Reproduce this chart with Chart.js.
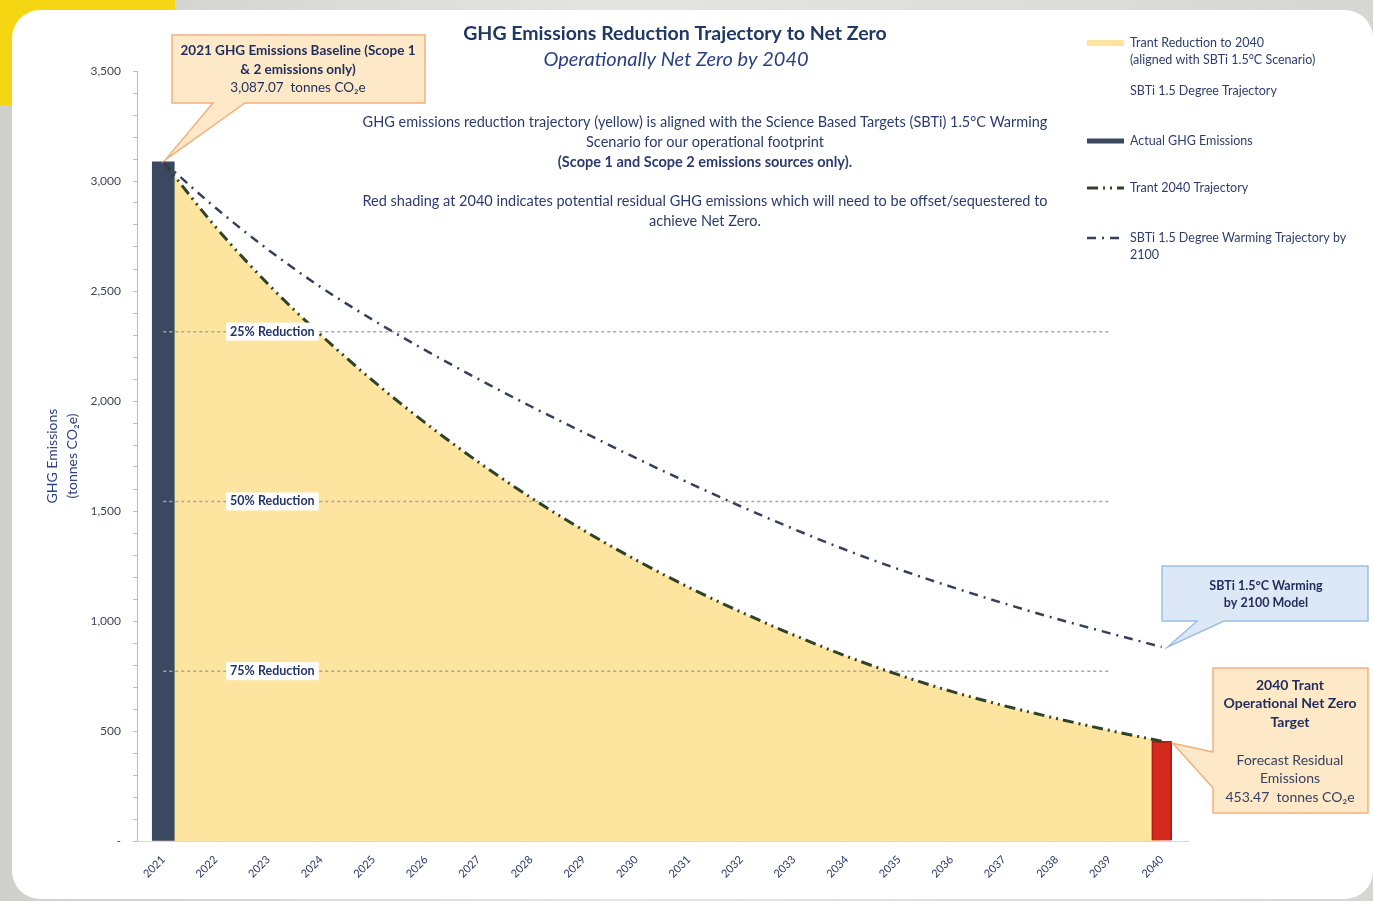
<!DOCTYPE html>
<html>
<head>
<meta charset="utf-8">
<script src="https://cdn.jsdelivr.net/npm/chart.js@4.4.1/dist/chart.umd.min.js"></script>
<style>
  html, body { margin: 0; padding: 0; }
  body {
    width: 1373px; height: 901px; overflow: hidden; position: relative;
    background: linear-gradient(90deg, #cfd0cc 0%, #e4e5e2 45%, #d6d7d3 100%);
  }
  #blob { position: absolute; left: -40px; top: -30px; width: 215px; height: 135px; background: #f5d612; border-radius: 0 0 60% 0; }
  #card { position: absolute; left: 12px; top: 10px; width: 1361px; height: 889px; background: #fff; border-radius: 28px; }
  #wrap { position: absolute; left: 0; top: 0; width: 1373px; height: 901px; }
</style>
</head>
<body>
<div id="blob"></div>
<div id="card"></div>
<div id="wrap"><canvas id="GhgChart"></canvas></div>
<script>
// data
const years = ['2021', '2022', '2023', '2024', '2025', '2026', '2027', '2028', '2029', '2030',
               '2031', '2032', '2033', '2034', '2035', '2036', '2037', '2038', '2039', '2040'];
const actualEmissions = [3087.07, null, null, null, null, null, null, null, null, null,
                         null, null, null, null, null, null, null, null, null, null];
const residualEmissions = [null, null, null, null, null, null, null, null, null, null,
                           null, null, null, null, null, null, null, null, null, 453.47];
const trantTrajectory = [3087.07, 2790, 2530, 2300, 2090, 1898, 1722, 1560, 1412, 1277,
                         1153, 1040, 936, 840, 755, 680, 615, 557, 503, 453.47];
const sbtiTrajectory = [3087.07, 2877, 2687, 2517, 2367, 2229, 2099, 1975, 1857, 1740,
                        1628, 1520, 1418, 1322, 1235, 1155, 1080, 1010, 945, 882];
const reductionLevels = [2315.30, 1543.54, 771.77];
const reductionLabels = ['25% Reduction', '50% Reduction', '75% Reduction'];

const navy = '#22346a';
const FONT = 'Lato, "Open Sans", sans-serif';

function refLine(level) {
    return years.map((yr, i) => (i < years.length - 1 ? level : null));
}

// callout: box with a pointer; base points lie on the box edge
function callout(ctx, box, side, b1, b2, tip, fill, stroke) {
    const [x0, y0, x1, y1] = box;
    ctx.beginPath();
    ctx.moveTo(x0, y0);
    ctx.lineTo(x1, y0);
    ctx.lineTo(x1, y1);
    if (side === 'bottom') {
        ctx.lineTo(b2, y1); ctx.lineTo(tip[0], tip[1]); ctx.lineTo(b1, y1);
        ctx.lineTo(x0, y1);
    } else {
        ctx.lineTo(x0, y1);
        ctx.lineTo(x0, b2); ctx.lineTo(tip[0], tip[1]); ctx.lineTo(x0, b1);
    }
    ctx.closePath();
    ctx.fillStyle = fill;
    ctx.fill();
    ctx.lineWidth = 1.5;
    ctx.strokeStyle = stroke;
    ctx.stroke();
}

function textLines(ctx, lines, cx, y0, lh) {
    ctx.textAlign = 'center';
    ctx.textBaseline = 'middle';
    lines.forEach((l, i) => {
        ctx.font = l[1];
        ctx.fillText(l[0], cx, y0 + i * lh);
    });
}

const overlay = {
    id: 'overlay',
    afterDatasetsDraw(chart) {
        const { ctx, scales: { x, y } } = chart;
        ctx.save();
        ctx.font = 'bold 12.5px ' + FONT;
        ctx.textAlign = 'center';
        ctx.textBaseline = 'middle';
        reductionLevels.forEach((lvl, i) => {
            const px = x.getPixelForValue(2) + 4;
            const py = y.getPixelForValue(lvl);
            const w = ctx.measureText(reductionLabels[i]).width;
            ctx.fillStyle = '#fff';
            ctx.fillRect(px - w / 2 - 4, py - 9, w + 8, 18);
            ctx.fillStyle = navy;
            ctx.fillText(reductionLabels[i], px, py);
        });
        ctx.restore();
    },
    afterDraw(chart) {
        const { ctx, scales: { x, y } } = chart;
        const last = years.length - 1;
        ctx.save();

        // titles
        ctx.fillStyle = '#203864';
        textLines(ctx, [['GHG Emissions Reduction Trajectory to Net Zero', 'bold 19.5px ' + FONT]], 675, 34, 0);
        ctx.fillStyle = '#2b3f86';
        textLines(ctx, [['Operationally Net Zero by 2040', 'italic 20px ' + FONT]], 676, 60, 0);

        ctx.fillStyle = '#2c3b6e';
        textLines(ctx, [
            ['GHG emissions reduction trajectory (yellow) is aligned with the Science Based Targets (SBTi) 1.5\u00b0C Warming', '14.5px ' + FONT],
            ['Scenario for our operational footprint', '14.5px ' + FONT],
            ['(Scope 1 and Scope 2 emissions sources only).', 'bold 14.5px ' + FONT]
        ], 705, 122, 20);
        textLines(ctx, [
            ['Red shading at 2040 indicates potential residual GHG emissions which will need to be offset/sequestered to', '14.5px ' + FONT],
            ['achieve Net Zero.', '14.5px ' + FONT]
        ], 705, 201, 20);

        // callouts
        const tip1 = [x.getPixelForValue(0) + 2, y.getPixelForValue(actualEmissions[0]) - 2];
        callout(ctx, [172, 35, 425, 103], 'bottom', 213, 245, tip1, '#fde9c8', '#f2b07e');
        ctx.fillStyle = '#1f2c5c';
        textLines(ctx, [
            ['2021 GHG Emissions Baseline (Scope 1', 'bold 13.5px ' + FONT],
            ['& 2 emissions only)', 'bold 13.5px ' + FONT],
            [actualEmissions[0].toLocaleString('en-US', { minimumFractionDigits: 2 }) + '  tonnes CO\u2082e', '13.5px ' + FONT]
        ], 298, 51, 18.5);

        const tip2 = [x.getPixelForValue(last) + 6, y.getPixelForValue(sbtiTrajectory[last])];
        callout(ctx, [1162, 566, 1368, 621], 'bottom', 1197, 1224, tip2, '#dce8f5', '#9ebfe2');
        ctx.fillStyle = '#1f2c5c';
        textLines(ctx, [
            ['SBTi 1.5\u00b0C Warming', 'bold 12.5px ' + FONT],
            ['by 2100 Model', 'bold 12.5px ' + FONT]
        ], 1266, 586, 17);

        const tip3 = [x.getPixelForValue(last) + 11, y.getPixelForValue(residualEmissions[last]) + 2];
        callout(ctx, [1213, 668, 1368, 813], 'left', 752, 788, tip3, '#fde9c8', '#f2b07e');
        ctx.fillStyle = '#1f2c5c';
        textLines(ctx, [
            ['2040 Trant', 'bold 14px ' + FONT],
            ['Operational Net Zero', 'bold 14px ' + FONT],
            ['Target', 'bold 14px ' + FONT]
        ], 1290, 685, 18.5);
        ctx.fillStyle = '#3a4060';
        textLines(ctx, [
            ['Forecast Residual', '14px ' + FONT],
            ['Emissions', '14px ' + FONT],
            [residualEmissions[last].toFixed(2) + '  tonnes CO\u2082e', '14px ' + FONT]
        ], 1290, 760, 18.5);

        // legend
        const ds = chart.data.datasets;
        const legend = [
            { ds: 0, y: 43, lines: ['Trant Reduction to 2040', '(aligned with SBTi 1.5\u00b0C Scenario)'] },
            { ds: null, y: 91, lines: ['SBTi 1.5 Degree Trajectory'] },
            { ds: 1, y: 141, lines: ['Actual GHG Emissions'] },
            { ds: 6, y: 188, lines: ['Trant 2040 Trajectory'] },
            { ds: 7, y: 238, lines: ['SBTi 1.5 Degree Warming Trajectory by', '2100'] }
        ];
        legend.forEach(item => {
            if (item.ds !== null) {
                const d = ds[item.ds];
                ctx.save();
                ctx.beginPath();
                if (d.type === 'bar') {
                    ctx.strokeStyle = d.backgroundColor;
                    ctx.lineWidth = 5;
                } else if (d.fill) {
                    ctx.strokeStyle = d.backgroundColor;
                    ctx.lineWidth = 6;
                } else {
                    ctx.strokeStyle = d.borderColor;
                    ctx.lineWidth = d.borderWidth;
                    ctx.setLineDash(d.borderDash || []);
                }
                ctx.moveTo(1087, item.y);
                ctx.lineTo(1124, item.y);
                ctx.stroke();
                ctx.restore();
            }
            ctx.fillStyle = '#2f3d6e';
            ctx.font = '12.5px ' + FONT;
            ctx.textAlign = 'left';
            ctx.textBaseline = 'middle';
            item.lines.forEach((l, i) => ctx.fillText(l, 1130, item.y + i * 16.5));
        });
        ctx.restore();
    }
};

const ctxGhg = document.getElementById('GhgChart');
const dataGhg = {
    labels: years,
    datasets: [
        {
            type: 'line',
            label: 'Trant Reduction to 2040',
            data: trantTrajectory,
            fill: 'origin',
            backgroundColor: '#fde59f',
            borderWidth: 0,
            pointRadius: 0,
            cubicInterpolationMode: 'monotone',
            order: 10
        },
        {
            type: 'bar',
            label: 'Actual GHG Emissions',
            data: actualEmissions,
            backgroundColor: '#3a4862',
            barThickness: 22,
            order: 6
        },
        {
            type: 'bar',
            label: 'Residual Emissions',
            data: residualEmissions,
            backgroundColor: '#d42a1e',
            borderColor: '#b51d14',
            borderWidth: 2,
            barThickness: 20,
            order: 6
        },
        {
            type: 'line', label: reductionLabels[0], data: refLine(reductionLevels[0]),
            borderColor: '#a6a6a6', borderWidth: 1.5, borderDash: [3, 3], pointRadius: 0, order: 4
        },
        {
            type: 'line', label: reductionLabels[1], data: refLine(reductionLevels[1]),
            borderColor: '#a6a6a6', borderWidth: 1.5, borderDash: [3, 3], pointRadius: 0, order: 4
        },
        {
            type: 'line', label: reductionLabels[2], data: refLine(reductionLevels[2]),
            borderColor: '#a6a6a6', borderWidth: 1.5, borderDash: [3, 3], pointRadius: 0, order: 4
        },
        {
            type: 'line',
            label: 'Trant 2040 Trajectory',
            data: trantTrajectory,
            borderColor: '#2e4329',
            borderWidth: 3,
            borderDash: [11, 5, 2, 5, 2, 5],
            pointRadius: 0,
            fill: false,
            cubicInterpolationMode: 'monotone',
            order: 2
        },
        {
            type: 'line',
            label: 'SBTi 1.5 Degree Warming Trajectory by 2100',
            data: sbtiTrajectory,
            borderColor: '#36405a',
            borderWidth: 2.5,
            borderDash: [9, 6, 2, 6],
            pointRadius: 0,
            fill: false,
            cubicInterpolationMode: 'monotone',
            order: 1
        }
    ]
};
const configGhg = {
    type: 'bar',
    data: dataGhg,
    plugins: [overlay],
    options: {
        responsive: true,
        maintainAspectRatio: false,
        animation: false,
        datasets: { bar: { grouped: false } },
        layout: { padding: { left: 38, top: 71, right: 185, bottom: 0 } },
        plugins: {
            legend: { display: false },
            tooltip: { enabled: false }
        },
        scales: {
            x: {
                grid: { display: false },
                border: { display: true, color: '#d9d9d9' },
                ticks: {
                    color: '#2a3766',
                    font: { family: FONT, size: 11 },
                    minRotation: 45,
                    maxRotation: 45,
                    autoSkip: false,
                    padding: 4
                },
                afterFit(scale) { scale.height = 60; }
            },
            y: {
                min: 0,
                max: 3500,
                grid: { drawOnChartArea: false, drawTicks: true, tickLength: 4, color: '#bdbdbd' },
                border: { display: true, color: '#bdbdbd' },
                ticks: {
                    stepSize: 100,
                    autoSkip: false,
                    padding: 12,
                    color: '#404656',
                    font: { family: FONT, size: 12 },
                    callback: v => (v === 0 ? '-' : (v % 500 === 0 ? v.toLocaleString('en-US') : ''))
                },
                title: {
                    display: true,
                    text: ['GHG Emissions', '(tonnes CO\u2082e)'],
                    color: '#2f3f7f',
                    font: { family: FONT, size: 14, lineHeight: 1.45 },
                    padding: 4
                },
                afterFit(scale) { scale.width = 99; }
            }
        }
    }
};
new Chart(ctxGhg, configGhg);
</script>
</body>
</html>
